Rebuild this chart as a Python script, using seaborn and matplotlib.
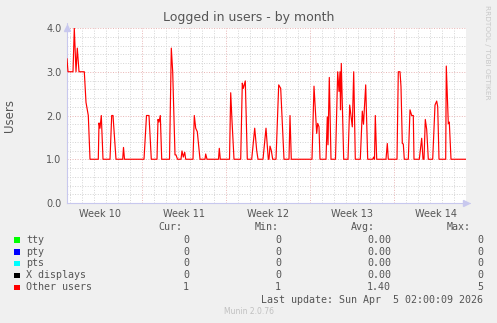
import matplotlib
matplotlib.use("Agg")
import matplotlib.pyplot as plt
import matplotlib.transforms as mtransforms
from matplotlib.ticker import FixedLocator, FixedFormatter
import numpy as np
import pandas as pd
import seaborn as sns

# ---------------- data ----------------
# time in days since the left edge of the graph, value = logged-in "Other users"
days = [0.00, 0.083, 0.5, 0.608, 0.75, 0.858, 1.0, 1.442, 1.583, 1.775, 1.917,
        2.608, 2.667, 2.75, 2.858, 3.0, 3.583, 3.725, 3.833, 4.083, 4.642, 4.708,
        4.792, 6.417, 6.625, 6.833, 7.025, 7.5, 7.583, 7.667, 7.775, 7.892, 8.542,
        8.692, 8.808, 9.0, 9.083, 9.208, 9.5, 9.583, 9.692, 9.808, 9.892, 10.5,
        10.608, 10.725, 10.858, 11.083, 11.5, 11.558, 11.667, 12.625, 12.692,
        12.775, 13.542, 13.642, 13.75, 13.917, 14.475, 14.608, 14.692, 14.858,
        15.025, 15.392, 15.642, 15.808, 15.917, 16.333, 16.583, 16.775, 16.833,
        16.917, 17.025, 17.142, 17.417, 17.642, 17.808, 18.083, 18.5, 18.583,
        18.692, 20.417, 20.583, 20.808, 20.892, 21.0, 21.083, 21.583, 21.692,
        21.75, 21.858, 22.0, 22.375, 22.558, 22.667, 22.75, 22.792, 22.858,
        23.058, 23.417, 23.558, 23.775, 23.892, 24.025, 24.442, 24.608, 24.708,
        24.892, 25.058, 25.475, 25.558, 25.625, 25.692, 25.808, 26.583, 26.692,
        26.775, 27.5, 27.608, 27.75, 27.833, 27.942, 28.025, 28.108, 28.442,
        28.583, 28.725, 28.858, 28.917, 29.358, 29.558, 29.667, 29.75, 29.858,
        29.975, 30.108, 30.475, 30.667, 30.808, 30.892, 31.0, 31.558, 31.608,
        31.775, 31.858, 32.0, 33.25]
users = [3.3, 3.0, 3.0, 4.0, 3.0, 3.54, 3.0, 3.0, 2.3, 2.0, 1.0,
         1.0, 1.83, 1.71, 2.0, 1.0, 1.0, 2.0, 2.0, 1.0, 1.0, 1.27,
         1.0, 1.0, 2.0, 2.0, 1.0, 1.0, 1.91, 1.85, 2.0, 1.0, 1.0,
         3.54, 3.0, 1.1, 1.1, 1.0, 1.0, 1.19, 1.05, 1.16, 1.0, 1.0,
         2.0, 1.71, 1.63, 1.0, 1.0, 1.12, 1.0, 1.0, 1.25,
         1.0, 1.0, 2.52, 1.88, 1.0, 1.0, 2.74, 2.62, 2.79,
         1.0, 1.0, 1.71, 1.2, 1.0, 1.0, 1.71, 1.0, 1.0,
         1.3, 1.2, 1.0, 1.0, 2.7, 2.62, 1.0, 1.0, 2.0,
         1.0, 1.0, 2.67, 1.59, 1.82, 1.74, 1.0, 1.0, 1.97,
         1.33, 2.87, 1.0, 1.0, 3.0, 2.55, 3.0, 2.13, 3.19,
         1.0, 1.0, 2.24, 1.74, 3.0, 1.0, 1.0, 2.1, 1.8,
         2.7, 1.0, 1.0, 1.05, 1.0, 2.0, 1.0, 1.0, 1.36,
         1.0, 1.0, 3.0, 3.0, 2.66, 1.36, 1.35, 1.0, 1.0,
         2.13, 2.0, 2.0, 1.0, 1.0, 1.48, 1.0, 1.0, 1.91,
         1.68, 1.0, 1.0, 2.24, 2.33, 2.2, 1.0, 1.0, 3.13,
         1.81, 1.85, 1.0, 1.0]

week_labels = ["Week 10", "Week 11", "Week 12", "Week 13", "Week 14"]
first_week_start = -0.775          # Monday of week 10, in days from graph start
span_days = 33.25

legend_names = ["tty", "pty", "pts", "X displays", "Other users"]
legend_colors = ["#00ff00", "#0000ff", "#00ffff", "#000000", "#ff0000"]
cur_vals = ["0", "0", "0", "0", "1"]
min_vals = ["0", "0", "0", "0", "1"]
avg_vals = ["0.00", "0.00", "0.00", "0.00", "1.40"]
max_vals = ["0", "0", "0", "0", "5"]
title = "Logged in users - by month"
ylabel = "Users"
last_update = "Last update: Sun Apr  5 02:00:09 2026"
footer = "Munin 2.0.76"
side_text = "RRDTOOL / TOBI OETIKER"

# ---------------- figure ----------------
sns.set_style("white")
plt.rcParams["font.family"] = ["DejaVu Sans"]

W, H = 497, 323
fig = plt.figure(figsize=(W / 100, H / 100), dpi=100, facecolor="#f0f0f0")
L, R, T, B = 67, 466, 28, 203
ax = fig.add_axes([L / W, 1 - B / H, (R - L) / W, (B - T) / H])
ax.set_facecolor("white")

df = pd.DataFrame({"day": days, "users": users})
sns.lineplot(data=df, x="day", y="users", ax=ax, color="#ff0000",
             linewidth=0.85, zorder=5, estimator=None, sort=False)

ax.set_xlim(0, span_days)
ax.set_ylim(0, 4.0)
ax.set_xlabel("")
ax.set_ylabel("")

# grid
week_bounds = [first_week_start + 7 * k for k in range(6)]
week_bounds_in = [w for w in week_bounds if 0 < w < span_days]
day_lines = [first_week_start + d for d in range(0, 36)
             if 0 < first_week_start + d < span_days and d % 7 != 0]
ax.xaxis.set_major_locator(FixedLocator(week_bounds_in))
ax.xaxis.set_major_formatter(FixedFormatter([""] * len(week_bounds_in)))
ax.xaxis.set_minor_locator(FixedLocator(day_lines))
yt_major = [0, 1, 2, 3, 4]
yt_minor = [v / 5 for v in range(21) if v % 5 != 0]
ax.yaxis.set_major_locator(FixedLocator(yt_major))
ax.yaxis.set_major_formatter(FixedFormatter([f"{v:.1f}" for v in yt_major]))
ax.yaxis.set_minor_locator(FixedLocator(yt_minor))

ax.grid(which="minor", color="#d4d4d4", linestyle=(0, (1, 1.6)), linewidth=0.7, zorder=1)
ax.grid(which="major", color="#e8b4b4", linestyle=(0, (1, 1.6)), linewidth=0.7, zorder=2)
ax.set_axisbelow(True)

ax.tick_params(axis="both", which="both", length=2, width=0.6, colors="#c8c8c8",
               labelcolor="#555555", labelsize=7, pad=2, direction="out")
ax.tick_params(axis="x", which="major", colors="#e8b4b4", labelcolor="#555555")

for s in ["top", "right"]:
    ax.spines[s].set_visible(False)
for s in ["left", "bottom"]:
    ax.spines[s].set_color("#c8c8ee")
    ax.spines[s].set_linewidth(0.8)

# arrows at axis ends
ax.plot([0], [1.0], transform=ax.transAxes, marker="^", color="#c8c8ee",
        markersize=4, clip_on=False, zorder=6)
ax.plot([1.0], [0], transform=ax.transAxes, marker=">", color="#c8c8ee",
        markersize=4, clip_on=False, zorder=6)
ax.plot([0, 0], [1.0, 1.03], transform=ax.transAxes, color="#c8c8ee", lw=0.8, clip_on=False)
ax.plot([1.0, 1.01], [0, 0], transform=ax.transAxes, color="#c8c8ee", lw=0.8, clip_on=False)

# week labels centered between boundaries
trans = mtransforms.blended_transform_factory(ax.transData, ax.transAxes)
for i, lab in enumerate(week_labels):
    xc = week_bounds[i] + 3.5
    ax.text(xc, -0.035, lab, transform=trans, ha="center", va="top",
            fontsize=7, color="#555555")

# titles
fig.text(0.5, 1 - 18 / H, title, ha="center", va="center", fontsize=9, color="#555555")
fig.text(10 / W, 1 - 115 / H, ylabel, ha="center", va="center", rotation=90,
         fontsize=8.5, color="#555555")
fig.text(487 / W, 1 - 52 / H, side_text, ha="center", va="center", rotation=270,
         fontsize=5.3, color="#c8c8c8")

# legend table
mono = "DejaVu Sans Mono"
fs = 7.2
tc = "#555555"
for x, h in zip([158, 255, 351, 447], ["Cur:", "Min:", "Avg:", "Max:"]):
    fig.text(x / W, 1 - 227 / H, h, ha="left", va="center", family=mono, fontsize=fs, color=tc)
rows_y = [240, 252, 263.5, 275.5, 287.5]
for i, name in enumerate(legend_names):
    y = 1 - rows_y[i] / H
    fig.patches.append(plt.Rectangle((14 / W, y - 2.7 / H), 5.5 / W, 5.5 / H,
                                     transform=fig.transFigure, facecolor=legend_colors[i],
                                     edgecolor="none"))
    fig.text(26 / W, y, name, ha="left", va="center", family=mono, fontsize=fs, color=tc)
    for x, vals in zip([189, 281, 391, 483], [cur_vals, min_vals, avg_vals, max_vals]):
        fig.text(x / W, y, vals[i], ha="right", va="center", family=mono, fontsize=fs, color=tc)
fig.text(483 / W, 1 - 300 / H, last_update, ha="right", va="center", family=mono,
         fontsize=fs, color=tc)
fig.text(0.5, 1 - 312 / H, footer, ha="center", va="center", fontsize=5.5, color="#c0c0c0")

fig.savefig("out.png", dpi=100, facecolor=fig.get_facecolor())
